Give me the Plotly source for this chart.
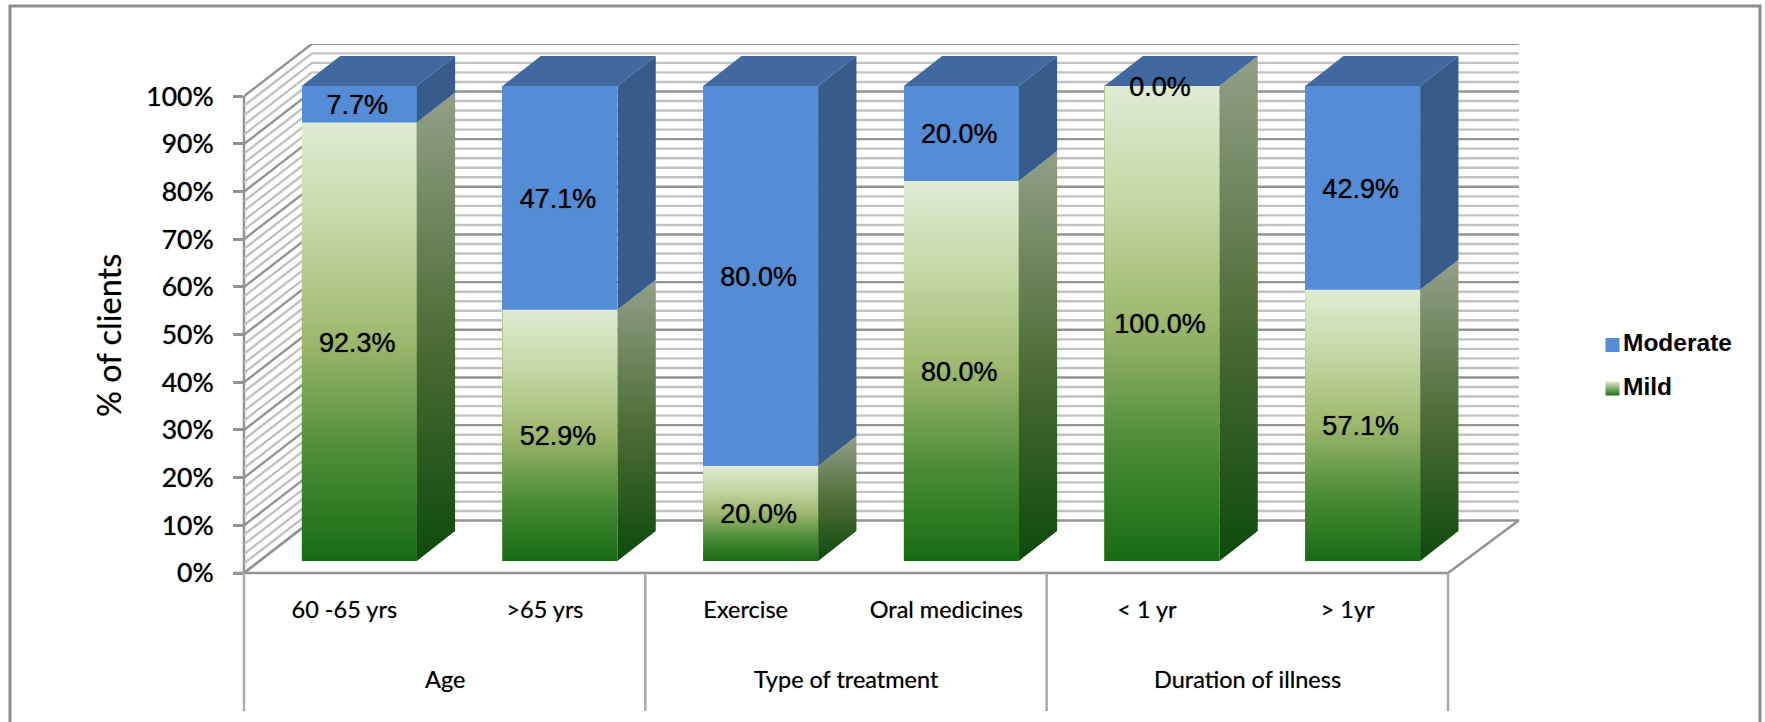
import plotly.graph_objects as go

# Survey data: percentage of clients by severity within each group
categories = ["60 -65 yrs", ">65 yrs", "Exercise", "Oral medicines", "< 1 yr", "> 1yr"]
groups = ["Age", "Type of treatment", "Duration of illness"]
mild = [92.3, 52.9, 20.0, 80.0, 100.0, 57.1]
moderate = [7.7, 47.1, 80.0, 20.0, 0.0, 42.9]
y_ticks = [0, 10, 20, 30, 40, 50, 60, 70, 80, 90, 100]

W, H = 1765, 722

# Pixel frame of the plotting box and the chart's isometric depth
BOX_L, BOX_R, BOX_T, BOX_B = 244, 1519, 44, 573
CELL = 200.67
AXIS_UNIT = 4.767          # pixels per percent on the value axis
BAR_UNIT = 4.75            # pixels per percent on the bars' plane
WALL_DX, WALL_DY = 68 / CELL, 52.5 / AXIS_UNIT
BAR_DX, BAR_DY = 38.3 / CELL, 30 / BAR_UNIT
BAR_W = 115 / CELL
FIRST_CELL_PX = 344.3
FIRST_BAR_PX = 359.3
BAR_ZERO_PX = 561
LABEL_NUDGE_X, LABEL_NUDGE_Y = -2 / CELL, -3 / BAR_UNIT

GRID_MAJOR = "#939393"
GRID_MINOR = "#c2c2c2"
FRAME = "#8e8e8e"
BLUE_FRONT = "#548dd6"
BLUE_SIDE = "#375b8a"
BLUE_TOP = "#41699f"
SOFT = "0 0 1px rgba(0,0,0,0.75)"
SOFT_LIGHT = "0 0 1px rgba(0,0,0,0.45)"

MILD_FRONT_SCALE = [[0, "#176b14"], [0.25, "#4e8d38"], [0.5, "#9db76d"], [0.75, "#c3d6a3"], [1, "#e0ebd3"]]
MILD_SIDE_SCALE = [[0, "#0d4a0c"], [0.45, "#4a6a33"], [1, "#93a088"]]


def px_x(px):
    return px / W


def px_y(px):
    return 1 - px / H


fig = go.Figure()

# Back wall and side wall: a line every 2%, heavier every 10%
left = -0.5
right = (BOX_R - FIRST_CELL_PX) / CELL
for step, colour, width in ((2, GRID_MINOR, 2.4), (10, GRID_MAJOR, 2.4)):
    xs, ys = [], []
    for v in range(0, 101, step):
        if step == 2 and v % 10 == 0:
            continue
        xs += [left, left + WALL_DX, right, None]
        ys += [v, v + WALL_DY, v + WALL_DY, None]
    fig.add_trace(go.Scatter(x=xs, y=ys, mode="lines", line=dict(color=colour, width=width),
                             hoverinfo="skip", showlegend=False, xaxis="x", yaxis="y", cliponaxis=False))

# Solid front faces on a plane set slightly forward of the walls
positions = list(range(len(categories)))
fig.add_trace(go.Bar(x=positions, y=mild, name="Mild", width=BAR_W, marker=dict(color="#7fa958", line_width=0),
                     xaxis="x2", yaxis="y2", showlegend=False, hoverinfo="skip"))
fig.add_trace(go.Bar(x=positions, y=moderate, name="Moderate", width=BAR_W, marker=dict(color=BLUE_FRONT, line_width=0),
                     xaxis="x2", yaxis="y2", showlegend=False, hoverinfo="skip"))

for i, (lo, hi) in enumerate(zip(mild, moderate)):
    xl, xr = i - BAR_W / 2, i + BAR_W / 2
    top = lo + hi
    # shaded front of the Mild segment
    fig.add_trace(go.Scatter(x=[xl, xr, xr, xl, xl], y=[0, 0, lo, lo, 0], mode="lines", fill="toself",
                             line=dict(width=0), hoverinfo="skip", showlegend=False, xaxis="x2", yaxis="y2",
                             fillgradient=dict(type="vertical", start=0, stop=lo, colorscale=MILD_FRONT_SCALE)))
    # shaded side of the Mild segment
    fig.add_trace(go.Scatter(x=[xr, xr + BAR_DX, xr + BAR_DX, xr, xr],
                             y=[0, BAR_DY, lo + BAR_DY, lo, 0], mode="lines", fill="toself",
                             line=dict(width=0), hoverinfo="skip", showlegend=False, xaxis="x2", yaxis="y2",
                             fillgradient=dict(type="vertical", start=0, stop=lo + BAR_DY, colorscale=MILD_SIDE_SCALE)))
    # side of the Moderate segment
    if hi > 0:
        fig.add_trace(go.Scatter(x=[xr, xr + BAR_DX, xr + BAR_DX, xr, xr],
                                 y=[lo, lo + BAR_DY, top + BAR_DY, top, lo], mode="lines", fill="toself",
                                 fillcolor=BLUE_SIDE, line=dict(width=0), hoverinfo="skip", showlegend=False,
                                 xaxis="x2", yaxis="y2"))
    # top cap
    fig.add_trace(go.Scatter(x=[xl, xr, xr + BAR_DX, xl + BAR_DX, xl],
                             y=[top, top, top + BAR_DY, top + BAR_DY, top], mode="lines", fill="toself",
                             fillcolor=BLUE_TOP, line=dict(width=0), hoverinfo="skip", showlegend=False,
                             xaxis="x2", yaxis="y2"))

# Value labels centred on each segment
label_x = [p + LABEL_NUDGE_X for p in positions + positions]
label_y = [v / 2 + LABEL_NUDGE_Y for v in mild] + [lo + hi / 2 + LABEL_NUDGE_Y for lo, hi in zip(mild, moderate)]
label_text = [f"{v:.1f}%" for v in mild + moderate]
fig.add_trace(go.Scatter(x=label_x, y=label_y, text=label_text, mode="text", textposition="middle center",
                         textfont=dict(family="Liberation Sans", size=27, color="#000000", shadow=SOFT),
                         hoverinfo="skip", showlegend=False, xaxis="x2", yaxis="y2"))

# Key at the right of the chart
legend_names = ["Moderate", "Mild"]
fig.add_trace(go.Scatter(x=[1612.5, 1612.5], y=[345, 388.5], mode="markers",
                         marker=dict(symbol="square", size=14, color=[BLUE_FRONT, "#dfe9cf"],
                                     gradient=dict(type=["none", "vertical"], color=[BLUE_FRONT, "#1f7018"]),
                                     line_width=0),
                         hoverinfo="skip", showlegend=False, xaxis="x3", yaxis="y3"))
fig.add_trace(go.Scatter(x=[1623, 1623], y=[345, 388.5], mode="text", text=legend_names, textposition="middle right",
                         textfont=dict(family="Liberation Sans", size=24.5, color="#000000", weight="bold"),
                         hoverinfo="skip", showlegend=False, xaxis="x3", yaxis="y3"))

# Floor, axis lines and group dividers
divider_px = [BOX_L + CELL * k * 2 for k in range(4)]
line_style = dict(color=GRID_MAJOR, width=2.5)
shapes = [
    dict(type="rect", xref="paper", yref="paper", x0=px_x(10), x1=px_x(1760), y0=px_y(6), y1=-0.05,
         line=dict(color=FRAME, width=3), layer="below"),
    dict(type="line", xref="paper", yref="paper", x0=px_x(234), x1=px_x(divider_px[3]), y0=px_y(BOX_B), y1=px_y(BOX_B), line=line_style, layer="below"),
    dict(type="line", xref="paper", yref="paper", x0=px_x(divider_px[3]), x1=px_x(BOX_R), y0=px_y(BOX_B), y1=px_y(BOX_B - 52.7), line=line_style, layer="below"),
    dict(type="line", xref="paper", yref="paper", x0=px_x(BOX_L), x1=px_x(BOX_L + 68), y0=px_y(BOX_B), y1=px_y(BOX_B - 52.7), line=line_style, layer="below"),
    dict(type="line", xref="paper", yref="paper", x0=px_x(BOX_L), x1=px_x(BOX_L), y0=px_y(96), y1=px_y(BOX_B), line=line_style, layer="below"),
]
for d in divider_px:
    shapes.append(dict(type="line", xref="paper", yref="paper", x0=px_x(d), x1=px_x(d),
                       y0=px_y(BOX_B), y1=px_y(711), line=dict(color="#aaaaaa", width=2.5)))

# Group captions under the category labels
annotations = []
for k, g in enumerate(groups):
    annotations.append(dict(text=g, xref="paper", yref="paper", x=px_x((divider_px[k] + divider_px[k + 1]) / 2),
                            y=px_y(679), showarrow=False, xanchor="center", yanchor="middle",
                            font=dict(family="Lato", size=23.5, color="#000000", shadow=SOFT_LIGHT)))
annotations.append(dict(text="% of clients", xref="paper", yref="paper", x=px_x(108), y=px_y(336), textangle=-90,
                        showarrow=False, xanchor="center", yanchor="middle",
                        font=dict(family="Lato", size=32.5, color="#000000", shadow=SOFT_LIGHT)))

dom_x = [px_x(BOX_L), px_x(BOX_R)]
dom_y = [px_y(BOX_B), px_y(BOX_T)]

fig.update_layout(
    width=W, height=H, margin=dict(l=0, r=0, t=0, b=0), autosize=False,
    paper_bgcolor="#ffffff", plot_bgcolor="rgba(0,0,0,0)", barmode="stack", bargap=0,
    showlegend=False, shapes=shapes, annotations=annotations,
    xaxis=dict(domain=dom_x, range=[left, right], tickmode="array", tickvals=positions, ticktext=categories,
               ticks="", showgrid=False, zeroline=False, showline=False, ticklabelstandoff=20, automargin=False,
               tickfont=dict(family="Lato", size=23.5, color="#000000", shadow=SOFT_LIGHT), anchor="y"),
    yaxis=dict(domain=dom_y, range=[0, (BOX_B - BOX_T) / AXIS_UNIT], tickmode="array", tickvals=y_ticks,
               ticktext=[f"{t}%" for t in y_ticks], ticks="outside", ticklen=10, tickwidth=2.5, tickcolor=GRID_MAJOR,
               showgrid=False, zeroline=False, showline=False, ticklabelstandoff=14, automargin=False,
               tickfont=dict(family="Lato", size=26.5, color="#000000", shadow=SOFT), anchor="x"),
    xaxis2=dict(domain=dom_x, overlaying="x", anchor="y2", visible=False, automargin=False,
                range=[(BOX_L - FIRST_BAR_PX) / CELL, (BOX_R - FIRST_BAR_PX) / CELL]),
    yaxis2=dict(domain=dom_y, overlaying="y", anchor="x2", visible=False, automargin=False,
                range=[(BAR_ZERO_PX - BOX_B) / BAR_UNIT, (BAR_ZERO_PX - BOX_T) / BAR_UNIT]),
    xaxis3=dict(domain=[0, 1], range=[0, W], anchor="y3", visible=False, automargin=False),
    yaxis3=dict(domain=[0, 1], range=[H, 0], anchor="x3", visible=False, automargin=False),
)

fig.write_html("out.html")
